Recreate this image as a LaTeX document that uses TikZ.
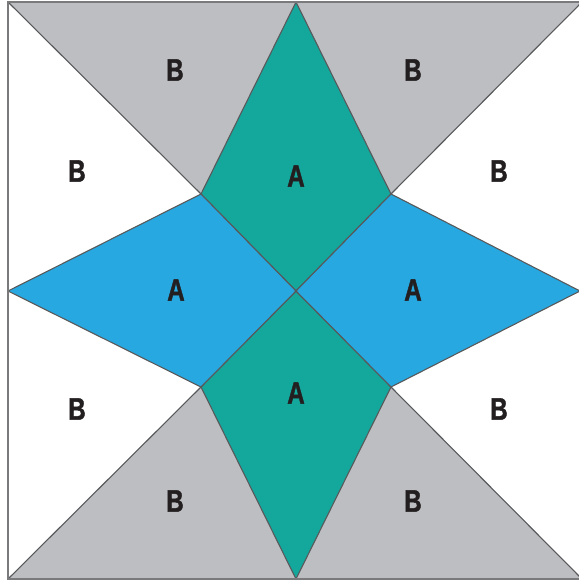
\documentclass[tikz,border=0pt]{standalone}
\usepackage{fontspec}
\newfontfamily\lblfont{Liberation Sans Bold}[FakeBold=1.6]
\definecolor{pgray}{HTML}{BDBEC2}
\definecolor{pteal}{HTML}{14A79C}
\definecolor{pblue}{HTML}{27A8E0}
\definecolor{pline}{HTML}{58595B}
\definecolor{pframe}{HTML}{7A7A7C}
\definecolor{ptext}{HTML}{231F20}
\begin{document}
\begin{tikzpicture}[x=1pt,y=-1pt,
  patch/.style={draw=pline,line width=1.1pt,line join=miter},
  frame/.style={draw=pframe,line width=2pt},
  lbl/.style={text=ptext,font=\lblfont\fontsize{31}{31}\selectfont,inner sep=0pt},
]
\useasboundingbox (0,0) rectangle (579,582);
\clip (0,0) rectangle (579,582);
% key points
\coordinate (TL) at (8,2);
\coordinate (TR) at (582,2);
\coordinate (BL) at (8,579);
\coordinate (BR) at (582,579);
\coordinate (T) at (296,2);
\coordinate (Bm) at (296,579);
\coordinate (L) at (8,291);
\coordinate (R) at (580,291);
\coordinate (C) at (296,291);
\coordinate (p1) at (201,194);
\coordinate (p2) at (391,194);
\coordinate (p3) at (201,387);
\coordinate (p4) at (391,387);
% gray triangles
\fill[pgray] (TL) -- (p1) -- (T) -- cycle;
\fill[pgray] (T) -- (p2) -- (TR) -- cycle;
\fill[pgray] (BL) -- (p3) -- (Bm) -- cycle;
\fill[pgray] (Bm) -- (p4) -- (BR) -- cycle;
% teal kites
\filldraw[patch,fill=pteal] (T) -- (p2) -- (C) -- (p1) -- cycle;
\filldraw[patch,fill=pteal] (Bm) -- (p4) -- (C) -- (p3) -- cycle;
% blue kites
\filldraw[patch,fill=pblue] (L) -- (p1) -- (C) -- (p3) -- cycle;
\filldraw[patch,fill=pblue] (R) -- (p2) -- (C) -- (p4) -- cycle;
% diagonals to corners
\draw[patch] (TL) -- (p1);
\draw[patch] (TR) -- (p2);
\draw[patch] (BL) -- (p3);
\draw[patch] (BR) -- (p4);
% frame
\draw[frame] (TL) rectangle (BR);
% labels
\node[lbl] (b1) at (175,70) {\scalebox{0.78}[1]{B}};
\node[lbl] (b2) at (413,70) {\scalebox{0.78}[1]{B}};
\node[lbl] (b3) at (77,171) {\scalebox{0.78}[1]{B}};
\node[lbl] (b4) at (499,171) {\scalebox{0.78}[1]{B}};
\node[lbl] (b5) at (77,409) {\scalebox{0.78}[1]{B}};
\node[lbl] (b6) at (499,409) {\scalebox{0.78}[1]{B}};
\node[lbl] (b7) at (175,501) {\scalebox{0.78}[1]{B}};
\node[lbl] (b8) at (413,501) {\scalebox{0.78}[1]{B}};
\node[lbl] (a1) at (296,176) {\scalebox{0.78}[1]{A}};
\node[lbl] (a2) at (176,290) {\scalebox{0.78}[1]{A}};
\node[lbl] (a3) at (413,290) {\scalebox{0.78}[1]{A}};
\node[lbl] (a4) at (296,393) {\scalebox{0.78}[1]{A}};
\end{tikzpicture}
\end{document}
